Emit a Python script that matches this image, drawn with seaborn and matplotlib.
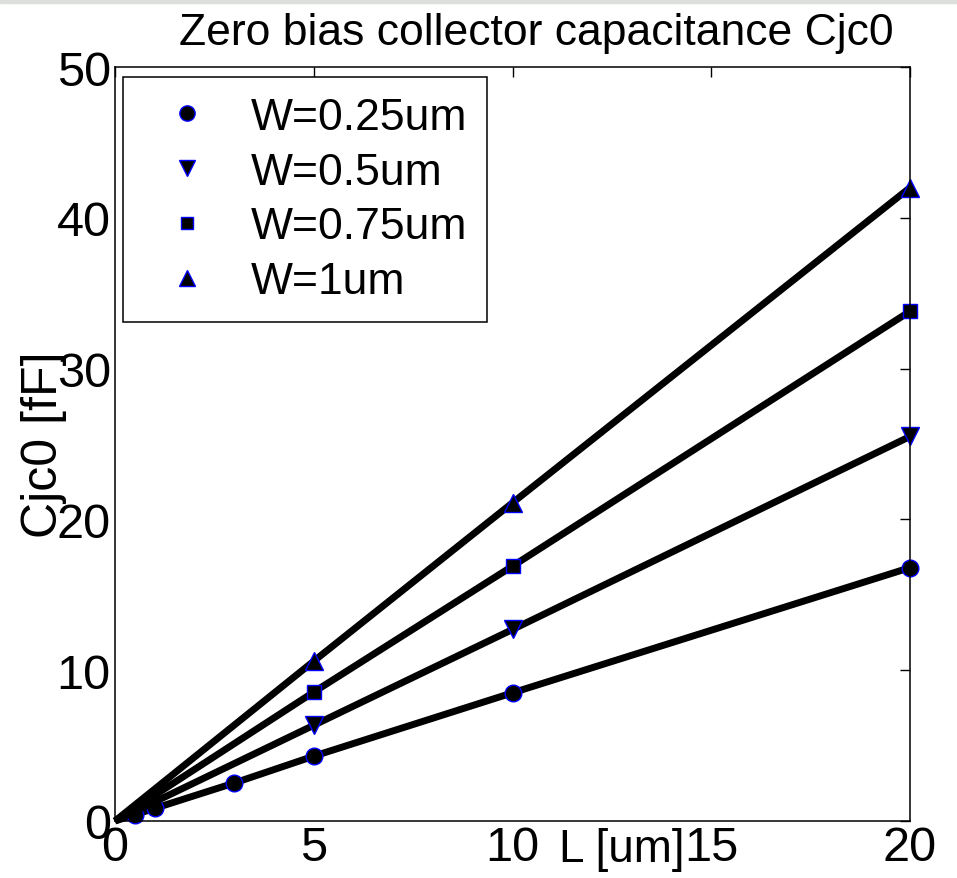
import matplotlib
matplotlib.use("Agg")
import matplotlib.pyplot as plt
from matplotlib.lines import Line2D
from matplotlib.patches import Rectangle
import pandas as pd
import seaborn as sns

# Junction capacitance versus emitter length for four widths
widths = ["W=0.25um", "W=0.5um", "W=0.75um", "W=1um"]
L_w025 = [0, 0.5, 1, 3, 5, 10, 20]
C_w025 = [0, 0.42, 0.84, 2.52, 4.3, 8.5, 16.8]
L_wide = [0, 5, 10, 20]
C_w05 = [0, 6.35, 12.7, 25.5]
C_w075 = [0, 8.55, 16.9, 33.8]
C_w1 = [0, 10.6, 21.1, 42.0]
x_ticks = [0, 5, 10, 15, 20]
y_ticks = [0, 10, 20, 30, 40, 50]

series = [
    (widths[0], L_w025, C_w025, "o", 12),
    (widths[1], L_wide, C_w05, "v", 13),
    (widths[2], L_wide, C_w075, "s", 10),
    (widths[3], L_wide, C_w1, "^", 13),
]

sns.set_theme(style="white")
plt.rcParams["font.family"] = ["Liberation Sans", "DejaVu Sans"]
plt.rcParams.update({"text.color": "black", "axes.labelcolor": "black",
                     "xtick.color": "black", "ytick.color": "black"})

fig = plt.figure(figsize=(9.57, 8.79), dpi=100)
ax = fig.add_axes([115 / 957, 1 - 822 / 879, 795 / 957, 754 / 879])

handles = []
for name, xs, ys, mk, ms in series:
    df = pd.DataFrame({"L": xs, "C": ys})
    sns.lineplot(data=df, x="L", y="C", ax=ax, color="black", lw=5,
                 marker=mk, markersize=ms, markerfacecolor="black",
                 markeredgecolor="blue", markeredgewidth=1,
                 markevery=slice(1, None), clip_on=False,
                 solid_capstyle="butt", legend=False)
    handles.append(Line2D([], [], ls="none", marker=mk, markersize=ms - 1,
                          markerfacecolor="black", markeredgecolor="blue",
                          markeredgewidth=1, label=name))

ax.set_xlim(0, 20)
ax.set_ylim(0, 50)
ax.set_xticks(x_ticks)
ax.set_yticks(y_ticks)
ax.set_xticklabels([str(v) for v in x_ticks])
ax.set_yticklabels([str(v) for v in y_ticks])
ax.tick_params(direction="in", length=7, width=1, color="black",
               labelcolor="black", labelsize=35, pad=3, top=True, right=True)
for sp in ax.spines.values():
    sp.set_visible(True)
    sp.set_color("black")
    sp.set_linewidth(1.1)

ax.set_xlabel("L [um]", fontsize=33, color="black")
ax.xaxis.set_label_coords(0.638, -0.008)
ax.set_ylabel("Cjc0 [fF]", fontsize=36, color="black")
ax.yaxis.set_label_coords(-0.06, 0.5)

leg = ax.legend(handles=handles, loc="upper left",
                bbox_to_anchor=(0.01, 0.987), fontsize=32,
                frameon=True, fancybox=False, edgecolor="black",
                framealpha=1, borderpad=0.45, handlelength=2.0,
                handletextpad=0.43, labelspacing=0.31, borderaxespad=0)
leg.get_frame().set_linewidth(1.1)
for t in leg.get_texts():
    t.set_color("black")

fig.text(536 / 957, 1 - 45 / 879, "Zero bias collector capacitance Cjc0",
         fontsize=32, ha="center", va="baseline", color="black")

fig.patches.append(Rectangle((0, 1 - 4 / 879), 1, 4 / 879,
                             transform=fig.transFigure,
                             color="#dcdedc", zorder=0))

fig.savefig("out.png", dpi=100)
